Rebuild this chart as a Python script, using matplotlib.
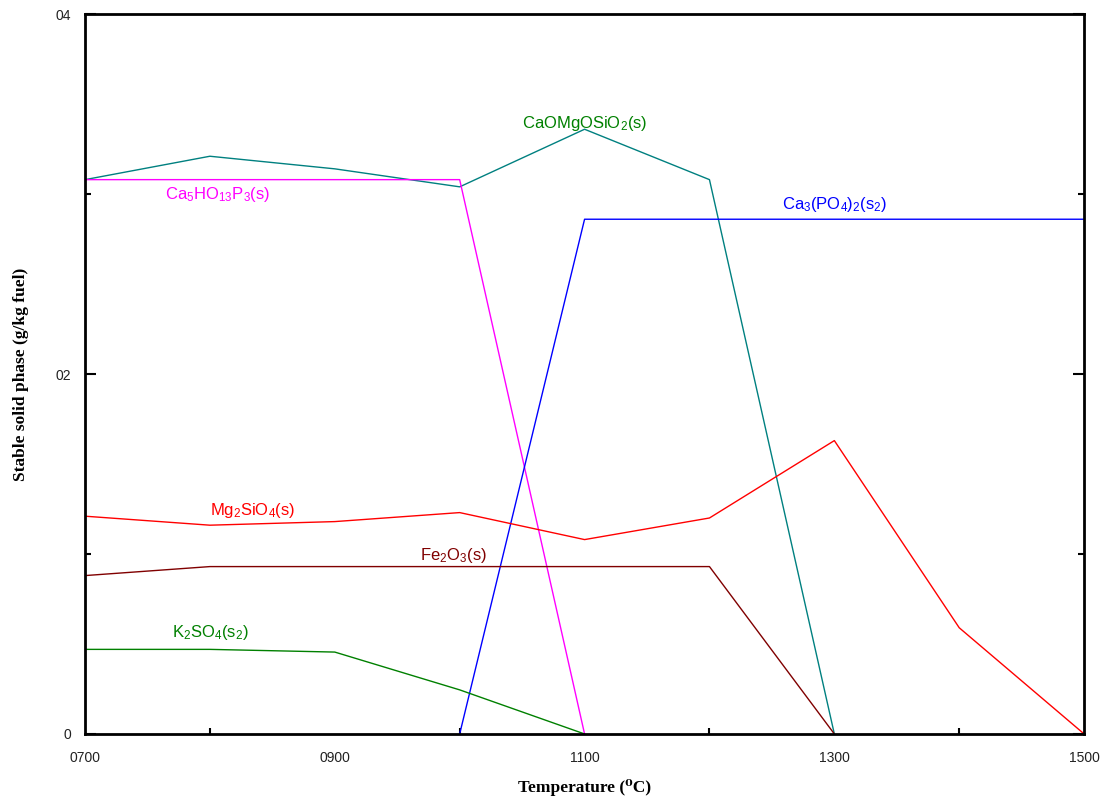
import matplotlib
matplotlib.use("Agg")
import matplotlib.pyplot as plt

plt.rcParams["font.family"] = ["Liberation Sans", "DejaVu Sans"]
plt.rcParams["mathtext.fontset"] = "custom"
plt.rcParams["mathtext.rm"] = "Liberation Sans"
plt.rcParams["mathtext.default"] = "regular"

# Temperatures (deg C)
temps = [700, 800, 900, 1000, 1100, 1200, 1300, 1400, 1500]

# Stable solid phases (g/kg fuel)
caomgosio2_t = [700, 800, 900, 1000, 1100, 1200, 1300]
caomgosio2 = [3.08, 3.21, 3.14, 3.04, 3.36, 3.08, 0.0]

ca5ho13p3_t = [700, 800, 900, 1000, 1100]
ca5ho13p3 = [3.08, 3.08, 3.08, 3.08, 0.0]

ca3po42_t = [1000, 1100, 1200, 1300, 1400, 1500]
ca3po42 = [0.0, 2.86, 2.86, 2.86, 2.86, 2.86]

mg2sio4 = [1.21, 1.16, 1.18, 1.23, 1.08, 1.20, 1.63, 0.59, 0.0]

fe2o3_t = [700, 800, 900, 1000, 1100, 1200, 1300]
fe2o3 = [0.88, 0.93, 0.93, 0.93, 0.93, 0.93, 0.0]

k2so4_t = [700, 800, 900, 1000, 1100]
k2so4 = [0.47, 0.47, 0.455, 0.245, 0.0]

fig = plt.figure(figsize=(11.04, 7.99), dpi=100)
ax = fig.add_axes([0.077, 0.0814, 0.905, 0.901])

ax.plot(caomgosio2_t, caomgosio2, color="#008080", lw=1)
ax.plot(ca5ho13p3_t, ca5ho13p3, color="#ff00ff", lw=1)
ax.plot(ca3po42_t, ca3po42, color="#0000ff", lw=1)
ax.plot(temps, mg2sio4, color="#ff0000", lw=1)
ax.plot(fe2o3_t, fe2o3, color="#800000", lw=1)
ax.plot(k2so4_t, k2so4, color="#008000", lw=1)

# species labels
fs = 12
ax.text(1100, 3.39, r"CaOMgOSiO$_2$(s)", color="#008000", fontsize=fs, ha="center", va="center")
ax.text(806, 3.0, r"Ca$_5$HO$_{13}$P$_3$(s)", color="#ff00ff", fontsize=fs, ha="center", va="center")
ax.text(1300, 2.94, r"Ca$_3$(PO$_4$)$_2$(s$_2$)", color="#0000ff", fontsize=fs, ha="center", va="center")
ax.text(834, 1.24, r"Mg$_2$SiO$_4$(s)", color="#ff0000", fontsize=fs, ha="center", va="center")
ax.text(995, 0.99, r"Fe$_2$O$_3$(s)", color="#800000", fontsize=fs, ha="center", va="center")
ax.text(800, 0.565, r"K$_2$SO$_4$(s$_2$)", color="#008000", fontsize=fs, ha="center", va="center")

ax.set_xlim(700, 1500)
ax.set_ylim(0, 4)

ax.set_xticks([700, 900, 1100, 1300, 1500])
ax.set_xticklabels(["0700", "0900", "1100", "1300", "1500"])
ax.set_xticks([800, 1000, 1200, 1400], minor=True)
ax.set_yticks([0, 2, 4])
ax.set_yticklabels(["0", "02", "04"])
ax.set_yticks([1, 3], minor=True)

ax.tick_params(which="major", direction="in", length=8, width=1.5, labelsize=10,
               colors="black", labelcolor="#222222", top=False, right=True)
ax.tick_params(which="minor", direction="in", length=4, width=1.5, right=True)
ax.tick_params(axis="x", which="major", length=0, pad=12)
ax.tick_params(axis="y", which="major", pad=10)

for s in ax.spines.values():
    s.set_linewidth(2)

label_font = dict(family=["Liberation Serif", "DejaVu Serif"], fontweight="bold", fontsize=12.5)
ax.set_xlabel("Temperature (\u2070C)", labelpad=10, **label_font)
ax.set_ylabel("Stable solid phase (g/kg fuel)", labelpad=19, **label_font)

fig.savefig("out.png", dpi=100)
